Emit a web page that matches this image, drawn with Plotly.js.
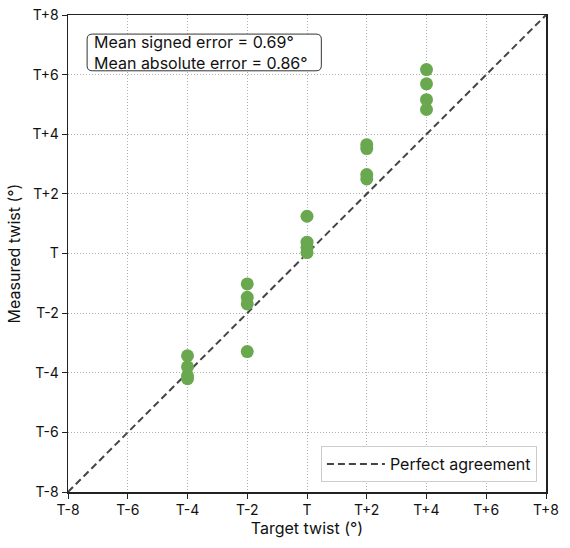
<!DOCTYPE html>
<html>
<head>
<meta charset="utf-8">
<script src="https://cdn.plot.ly/plotly-3.0.1.min.js"></script>
<style>html,body{margin:0;padding:0;background:#fff;}#chart{width:570px;height:548px;}</style>
</head>
<body>
<div id="chart"></div>
<script>
const targetTwist = [-4, -4, -4, -4, -2, -2, -2, -2, 0, 0, 0, 0, 2, 2, 2, 2, 4, 4, 4, 4];
const measuredTwist = [-3.43, -3.8, -4.1, -4.2, -1.02, -1.47, -1.69, -3.29, 1.25, 0.38, 0.2, 0.03, 3.65, 3.52, 2.65, 2.5, 6.17, 5.69, 5.16, 4.83];
const tickVals = [-8, -6, -4, -2, 0, 2, 4, 6, 8];
const tickLabels = ["T-8", "T-6", "T-4", "T-2", "T", "T+2", "T+4", "T+6", "T+8"];
const agreementLine = [-8, 8];
const statsText = ["Mean signed error = 0.69°", "Mean absolute error = 0.86°"];

const FONT = "Inter, 'Open Sans', sans-serif";

const traces = [
  {
    x: agreementLine, y: agreementLine, mode: "lines", name: "Perfect agreement",
    line: {color: "#444444", width: 2, dash: "7px,4px"}, showlegend: true
  },
  {
    x: targetTwist, y: measuredTwist, mode: "markers", name: "Measurements",
    marker: {color: "#6aa84f", size: 13, line: {width: 0}}, showlegend: false
  }
];

const axisCommon = {
  range: [-8, 8], tickvals: tickVals, ticktext: tickLabels,
  showgrid: true, gridcolor: "#b0b0b0", griddash: "1px,2px", gridwidth: 1,
  zeroline: false, showline: true, linecolor: "#222222", linewidth: 1.5, mirror: true,
  ticks: "outside", ticklen: 5, tickcolor: "#222222", tickwidth: 1,
  tickfont: {family: FONT, size: 14, color: "#111"}
};

const r = 0.011;
const bx0 = 0.040, bx1 = 0.530, by0 = 0.883, by1 = 0.960;
const rr = 0.0105;
const boxPath = `M ${bx0+r},${by1} L ${bx1-r},${by1} Q ${bx1},${by1} ${bx1},${by1-rr} L ${bx1},${by0+rr} Q ${bx1},${by0} ${bx1-r},${by0} L ${bx0+r},${by0} Q ${bx0},${by0} ${bx0},${by0+rr} L ${bx0},${by1-rr} Q ${bx0},${by1} ${bx0+r},${by1} Z`;

const layout = {
  width: 570, height: 548,
  margin: {l: 68, r: 24, t: 15, b: 56},
  paper_bgcolor: "#ffffff", plot_bgcolor: "#ffffff",
  font: {family: FONT, size: 14, color: "#111"},
  xaxis: Object.assign({}, axisCommon, {
    title: {text: "Target twist (°)", font: {family: FONT, size: 16, color: "#111"}, standoff: 5}
  }),
  yaxis: Object.assign({}, axisCommon, {
    title: {text: "Measured twist (°)", font: {family: FONT, size: 16, color: "#111"}, standoff: 8}
  }),
  showlegend: true,
  legend: {
    x: 0.981, xanchor: "right", y: 0.021, yanchor: "bottom",
    bgcolor: "#ffffff", bordercolor: "#cccccc", borderwidth: 1,
    font: {family: FONT, size: 16, color: "#111"}, itemwidth: 58
  },
  shapes: [
    {type: "path", xref: "paper", yref: "paper", path: boxPath,
     line: {color: "#333333", width: 1}, fillcolor: "#ffffff", layer: "above"}
  ],
  annotations: [
    {xref: "paper", yref: "paper", x: 0.050, y: 0.9215, xanchor: "left", yanchor: "middle",
     text: statsText.join("<br>"), showarrow: false, align: "left",
     font: {family: FONT, size: 16, color: "#111"}}
  ]
};

Plotly.newPlot("chart", traces, layout, {displayModeBar: false, staticPlot: true});
</script>
</body>
</html>
